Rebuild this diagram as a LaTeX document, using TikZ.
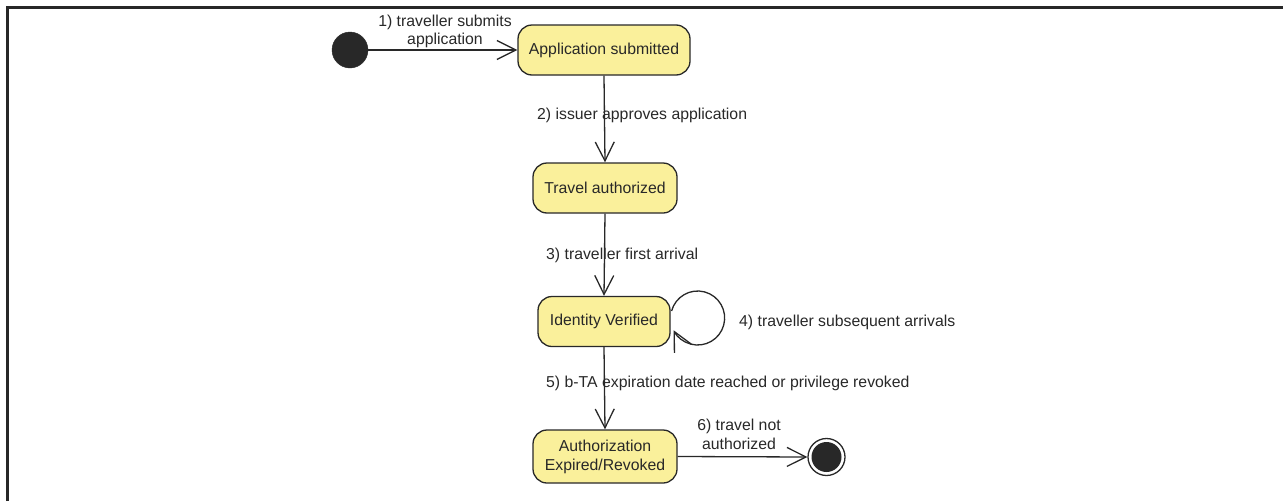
\documentclass[tikz,border=0pt]{standalone}
\usepackage{fontspec}
\setmainfont{Liberation Sans}
\usetikzlibrary{arrows.meta,calc}
\definecolor{statefill}{RGB}{250,240,155}
\definecolor{ink}{RGB}{40,40,40}
\tikzset{
  state/.style={draw=ink, fill=statefill, line width=1.3pt, rounded corners=14pt,
    minimum height=50pt, inner sep=0pt, align=center, text=ink,
    font=\fontsize{15.8pt}{19pt}\selectfont},
  lbl/.style={text=ink, inner sep=0pt, align=center,
    font=\fontsize{15.8pt}{18.5pt}\selectfont},
  trans/.style={draw=ink, line width=1.3pt,
    -{Straight Barb[length=19pt,width=19pt,line width=1.3pt]}},
}
\begin{document}
\begin{tikzpicture}[x=1pt,y=1pt]
  \useasboundingbox (0,0) rectangle (1283,-501);
  % frame edges
  \draw[ink, line width=2.5pt] (7.5,-501) -- (7.5,-7.5) -- (1283,-7.5);

  % states
  \node[state, minimum width=172pt] (as) at (604,-50) {Application submitted};
  \node[state, minimum width=144pt] (ta) at (605,-188) {Travel authorized};
  \node[state, minimum width=132pt] (iv) at (604,-321.5) {Identity Verified};
  \node[state, minimum width=144pt, minimum height=53pt] (ae) at (605,-456.5)
    {Authorization\\Expired/Revoked};

  % initial and final pseudostates
  \node[circle, fill=ink, draw=ink, minimum size=36pt, inner sep=0pt] (init) at (350,-50) {};
  \node[circle, draw=ink, fill=white, line width=1.3pt, minimum size=37pt, inner sep=0pt] (final) at (826.5,-457) {};
  \node[circle, fill=ink, minimum size=30pt, inner sep=0pt] (finalcore) at (final.center) {};

  % transitions
  \draw[trans] (init.east) -- (as.west);
  \draw[trans] (as.south) -- (ta.north);
  \draw[trans] (ta.south) -- (iv.north);
  \draw[trans] (iv.south) -- (ae.north);
  \draw[trans] (ae.east) -- (final.west);

  % self transition on Identity Verified
  \coordinate (loopc) at ($(iv.east)+(27,3.5)$);
  \draw[trans] ($(loopc)+(165:27)$) arc[start angle=165, end angle=-153, radius=27];

  % transition labels
  \node[lbl] (l1) at (445,-31.5) {1) traveller submits\\application};
  \node[lbl, anchor=west] (l2) at (537,-115) {2) issuer approves application};
  \node[lbl, anchor=west] (l3) at (546,-255) {3) traveller first arrival};
  \node[lbl, anchor=west] (l4) at (739,-322) {4) traveller subsequent arrivals};
  \node[lbl, anchor=west] (l5) at (546,-383) {5) b-TA expiration date reached or privilege revoked};
  \node[lbl] (l6) at (739,-434.5) {6) travel not\\authorized};
\end{tikzpicture}
\end{document}
